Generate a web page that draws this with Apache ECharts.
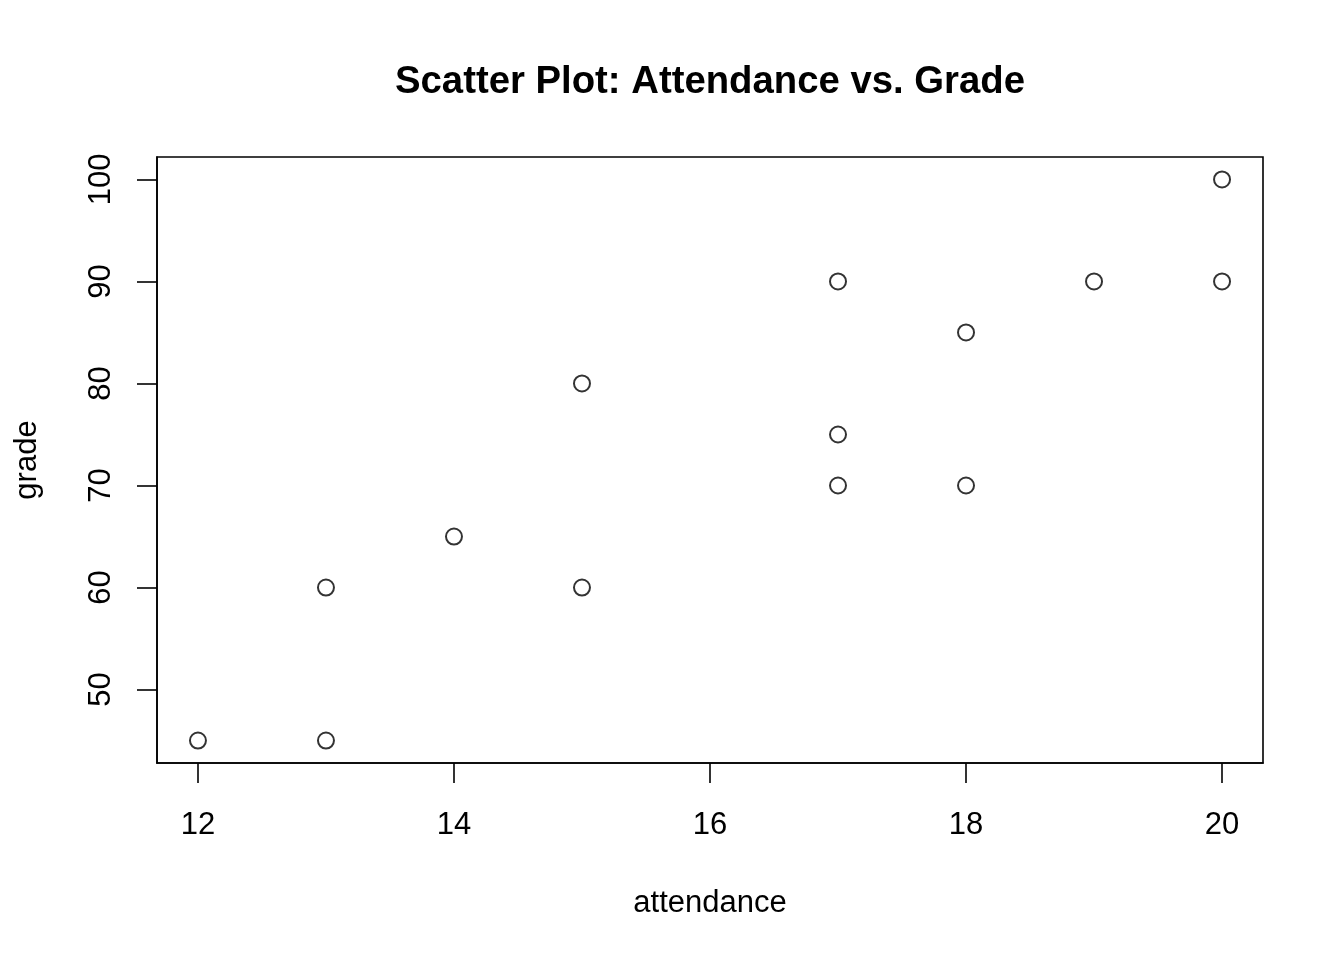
<!DOCTYPE html>
<html>
<head>
<meta charset="utf-8">
<script src="https://cdn.jsdelivr.net/npm/echarts@6/dist/echarts.min.js"></script>
<style>
  html, body { margin: 0; padding: 0; background: #fff; }
  #main { width: 1344px; height: 960px; }
</style>
</head>
<body>
<div id="main"></div>
<script>
// attendance / grade pairs
var attendance = [12, 13, 13, 14, 15, 15, 17, 17, 17, 18, 18, 19, 20, 20];
var grade      = [45, 45, 60, 65, 60, 80, 90, 75, 70, 85, 70, 90, 100, 90];
var xTicks = [12, 14, 16, 18, 20];
var yTicks = [50, 60, 70, 80, 90, 100];

var points = attendance.map(function (a, i) { return [a, grade[i]]; });

var font = 'Liberation Sans, Arial, Helvetica, sans-serif';
var chart = echarts.init(document.getElementById('main'));

chart.setOption({
  animation: false,
  backgroundColor: '#fff',
  title: {
    text: 'Scatter Plot: Attendance vs. Grade',
    left: 705, top: 58, textAlign: 'center',
    textStyle: { fontFamily: font, fontSize: 38.3, fontWeight: 'bold', color: '#000' }
  },
  grid: {
    left: 157, top: 157, width: 1106, height: 606,
    show: true, borderColor: '#000', borderWidth: 1.6, backgroundColor: 'transparent'
  },
  xAxis: {
    type: 'value', min: 11.68, max: 20.32,
    name: 'attendance', nameLocation: 'middle', nameGap: 125,
    nameTextStyle: { fontFamily: font, fontSize: 31, color: '#000' },
    axisLine: { show: true, lineStyle: { color: '#000', width: 1.6 } },
    axisTick: { show: true, inside: false, length: 20, customValues: xTicks, lineStyle: { color: '#000', width: 1.6 } },
    axisLabel: { customValues: xTicks, margin: 47, fontFamily: font, fontSize: 31, color: '#000' },
    splitLine: { show: false }
  },
  yAxis: {
    type: 'value', min: 42.8, max: 102.2,
    name: 'grade', nameLocation: 'middle', nameGap: 114,
    nameTextStyle: { fontFamily: font, fontSize: 31, color: '#000' },
    axisLine: { show: true, lineStyle: { color: '#000', width: 1.6 } },
    axisTick: { show: true, inside: false, length: 20, customValues: yTicks, lineStyle: { color: '#000', width: 1.6 } },
    axisLabel: { customValues: yTicks, rotate: 90, margin: 40, fontFamily: font, fontSize: 31, color: '#000' },
    splitLine: { show: false }
  },
  series: [{
    type: 'scatter',
    data: points,
    symbol: 'circle',
    symbolSize: 16,
    itemStyle: { color: 'transparent', borderColor: '#000', borderWidth: 2 }
  }]
});
</script>
</body>
</html>
